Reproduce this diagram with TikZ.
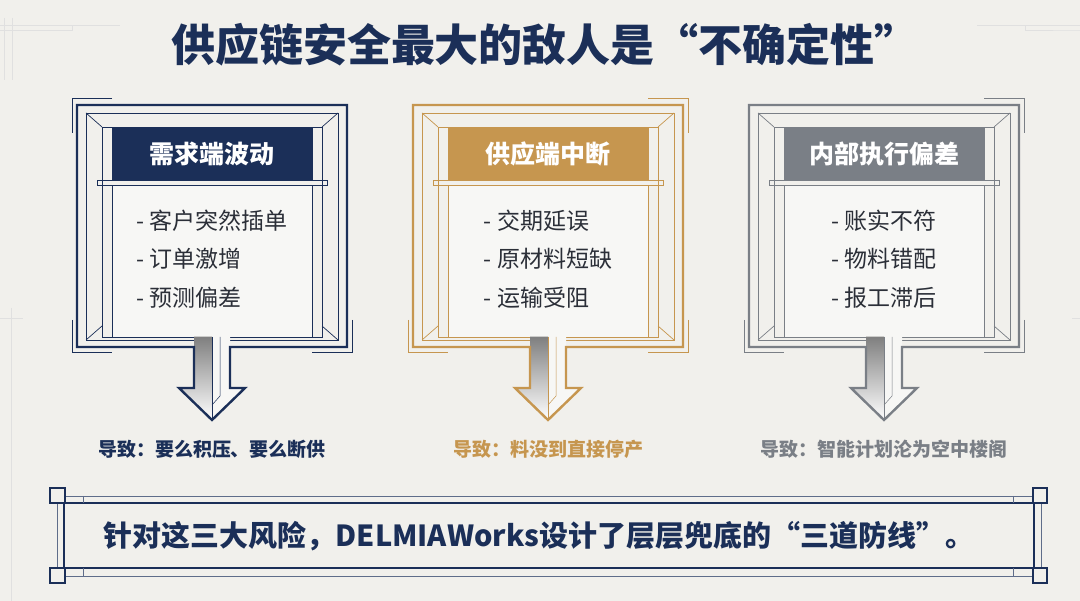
\documentclass[tikz,border=0pt]{standalone}
\usepackage{fontspec}
\setmainfont{Noto Sans CJK SC}
\definecolor{navy}{HTML}{1B2F58}
\definecolor{gold}{HTML}{C6964F}
\definecolor{steel}{HTML}{7A7F86}
\definecolor{paper}{HTML}{F1F0EC}
\definecolor{sheet}{HTML}{F7F7F5}
\definecolor{ink}{HTML}{2B2F38}
\definecolor{shade}{HTML}{ADB3BC}
\tikzset{
  frame/.style={line width=2.4pt, line join=miter},
  thinline/.style={line width=0.7pt},
  ghost/.style={line width=0.6pt, draw=black!12},
  titletext/.style={font=\bfseries\fontsize{44}{50}\selectfont, text=navy},
  headtext/.style={font=\bfseries\fontsize{25}{30}\selectfont, text=white},
  itemtext/.style={font=\fontsize{23}{38.5}\selectfont, text=ink, align=left},
  resulttext/.style={font=\bfseries\fontsize{19}{22}\selectfont},
  bannertext/.style={font=\bfseries\fontsize{29}{34}\selectfont, text=navy},
}

\begin{document}
\begin{tikzpicture}[x=1pt, y=-1pt]

% canvas
\fill[paper] (0,0) rectangle (1080,601);
\useasboundingbox (0,0) rectangle (1080,601);

% faint background lines
\draw[ghost] (0,25) -- (120,25) (0,30) -- (72,30) -- (72,25);
\draw[ghost] (4,18) -- (4,80) (12,18) -- (12,80);
\draw[ghost] (977,25) -- (1080,25) (1025,30) -- (1080,30) -- (1025,30) -- (1025,25);
\draw[ghost] (0,318) -- (23,318) (11,308) -- (11,601);
\draw[ghost] (1072,318) -- (1080,318);

% title
\node[titletext] (title) at (545,45) {供应链安全最大的敌人是“不确定性”};

% three risk boxes
\foreach \cx/\col/\s/\head/\itemA/\itemB/\itemC/\result [count=\i] in {
  212/navy/-1/需求端波动/客户突然插单/订单激增/预测偏差/要么积压、要么断供,
  548/gold/1/供应端中断/交期延误/原材料短缺/运输受阻/料没到直接停产,
  884/steel/1/内部执行偏差/账实不符/物料错配/报工滞后/智能计划沦为空中楼阁}
{
  % panel and header
  \filldraw[thinline, draw=\col, fill=sheet] (\cx-100,127) rectangle (\cx+100,337);
  \fill[\col] (\cx-100,127) rectangle (\cx+100,180);
  \draw[thinline, draw=\col, fill=paper] (\cx-115,180) rectangle (\cx+115,185);

  % inner frame, side walls and corner diagonals
  \draw[thinline, draw=\col] (\cx-126,113) rectangle (\cx+126,340);
  \draw[thinline, draw=\col] (\cx-110,127) rectangle (\cx+110,337);
  \draw[thinline, draw=\col] (\cx-126,113) -- (\cx-110,127) (\cx+126,113) -- (\cx+110,127)
    (\cx-126,340) -- (\cx-110,326) (\cx+126,340) -- (\cx+110,326);

  % arrow body: grey left half, light right half
  \fill[shade] (\cx-18,337) -- (\cx,337) -- (\cx,420) -- (\cx-33,388) -- (\cx-18,388) -- cycle;
  \fill[sheet] (\cx,337) -- (\cx+18,337) -- (\cx+18,388) -- (\cx+33,388) -- (\cx,420) -- cycle;
  \draw[thinline, draw=\col] (\cx,337) -- (\cx,420);
  \draw[line width=0.5pt, draw=\col] (\cx+8,337) -- (\cx+8,396) -- (\cx,405);

  % outer frame running into the arrow
  \draw[frame, draw=\col] (\cx-18,347) -- (\cx-135,347) -- (\cx-135,105) -- (\cx+135,105)
    -- (\cx+135,347) -- (\cx+18,347) -- (\cx+18,388) -- (\cx+33,388) -- (\cx,420)
    -- (\cx-33,388) -- (\cx-18,388) -- cycle;

  % corner brackets
  \draw[thinline, draw=\col] (\cx+\s*100,98) -- (\cx+\s*140,98) -- (\cx+\s*140,133);
  \draw[thinline, draw=\col] (\cx-140,320) -- (\cx-140,352) -- (\cx-100,352);
  \draw[thinline, draw=\col] (\cx+140,320) -- (\cx+140,352) -- (\cx+100,352);

  % texts
  \node[headtext] (head\i) at (\cx,154) {\head};
  \node[itemtext] (items\i) at (\cx,259) {- \itemA\\- \itemB\\- \itemC};
  \node[resulttext, text=\col] (result\i) at (\cx,449) {导致：\result};
}

% bottom banner
\draw[thinline, draw=navy!70] (66,496) -- (1032,496) (66,576) -- (1032,576);
\draw[frame, draw=navy] (64,503) -- (1034,503) (64,568) -- (1034,568);
\draw[frame, draw=navy] (64,503) -- (64,568) (1034,503) -- (1034,568);
\draw[thinline, draw=navy!70] (57,503) -- (57,568) (1041,503) -- (1041,568);
\draw[thinline, draw=navy!70] (83,496) -- (83,503) (83,568) -- (83,576)
  (1013,496) -- (1013,503) (1013,568) -- (1013,576);
\draw[frame, draw=navy, fill=paper] (50,488) rectangle (65,503) (50,568) rectangle (65,583)
  (1033,488) rectangle (1047,503) (1033,568) rectangle (1047,583);
\node[bannertext] (banner) at (539,536) {针对这三大风险，DELMIAWorks设计了层层兜底的“三道防线”。};

\end{tikzpicture}
\end{document}
